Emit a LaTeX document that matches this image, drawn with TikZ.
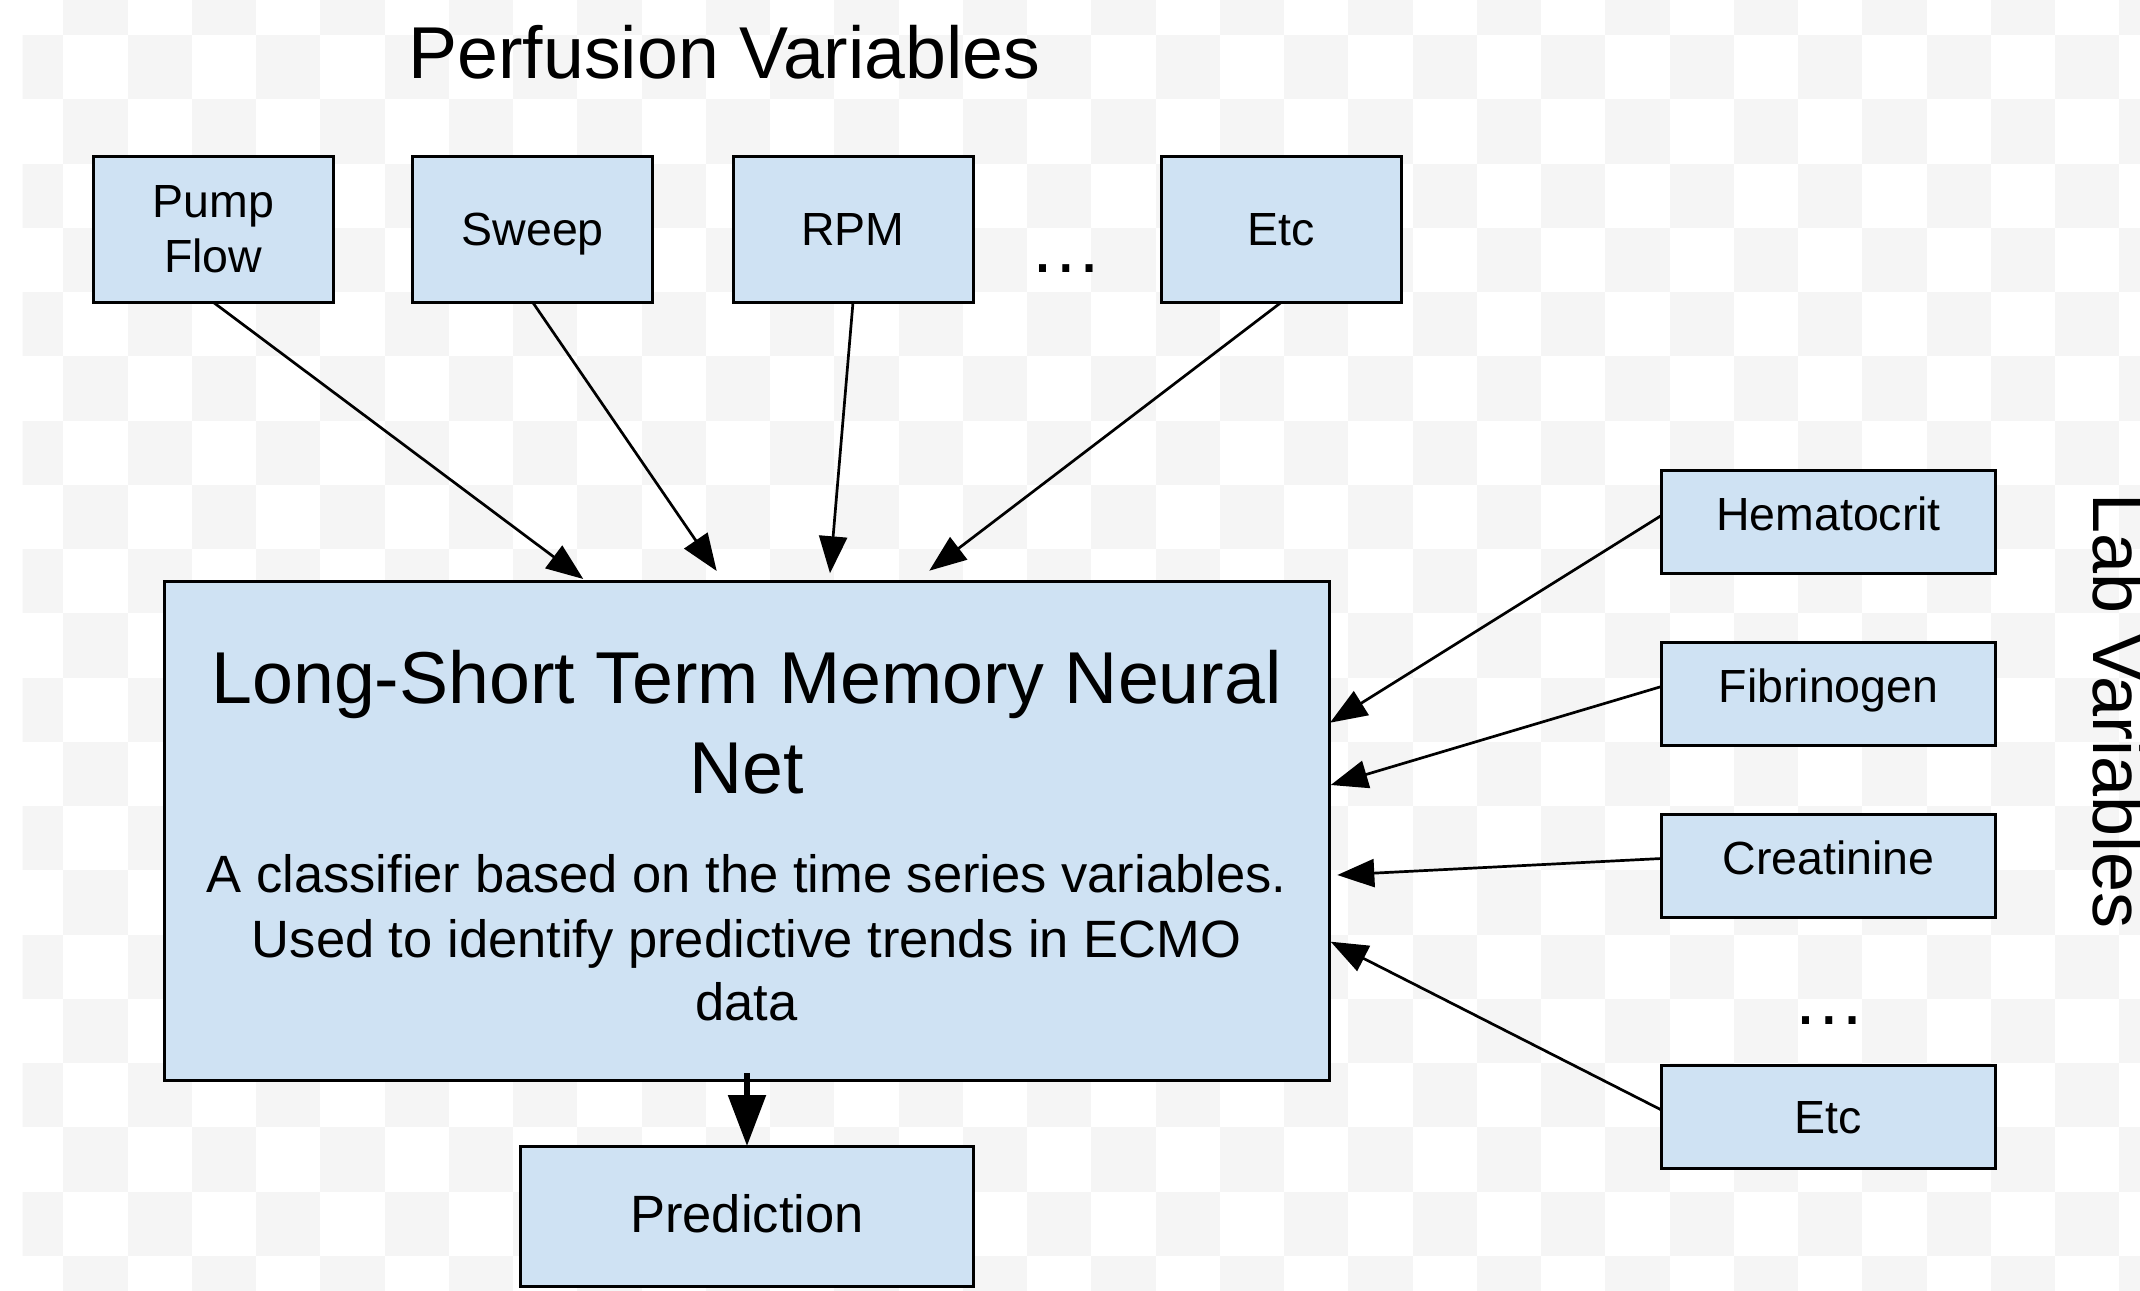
\documentclass[tikz,border=0pt]{standalone}
\usepackage{fontspec}
\setmainfont{Liberation Sans}
\usetikzlibrary{arrows.meta}
\definecolor{boxblue}{RGB}{207,226,243}
\definecolor{ckgray}{RGB}{245,245,245}
\begin{document}
\begin{tikzpicture}[x=1pt,y=-1pt,
  vbox/.style={draw=black, line width=3pt, fill=boxblue, inner sep=0pt, outer sep=0pt, align=center},
  topbox/.style={vbox, minimum width=240pt, minimum height=146pt, font=\fontsize{46.5}{55}\selectfont},
  onel/.style={text height=33pt, text depth=1pt},
  highl/.style={text height=33pt, text depth=16pt},
  labbox/.style={vbox, minimum width=334pt, minimum height=103pt, font=\fontsize{46.5}{55}\selectfont},
  conn/.style={draw=black, line width=2.7pt, -{Triangle[length=37pt,width=28pt]}},
  bigtext/.style={font=\fontsize{73.5}{86}\selectfont, inner sep=0pt, anchor=base},
  bodytext/.style={font=\fontsize{52.5}{63}\selectfont, inner sep=0pt, anchor=base},
]
\useasboundingbox (0,0) rectangle (2140,1290);
\fill[white] (0,0) rectangle (2140,1290);
\begin{scope}
\clip (22.7,0) rectangle (2140,1290);
\foreach \r in {-1,...,19}{
  \foreach \c in {-1,...,32}{
    \pgfmathtruncatemacro{\ckodd}{mod(\c+\r+100,2)}
    \ifnum\ckodd=1
      \fill[ckgray] ({63.3+64.25*\c},{35+64.25*\r}) rectangle ++(64.25,64.25);
    \fi
  }
}
\end{scope}

% title
\node[bigtext] (perf) at (724.5,78) {Perfusion Variables};

% top boxes
\node[topbox] (pump) at (213.3,229.3) {Pump\\Flow};
\node[topbox,onel] (sweep) at (532.7,229.3) {Sweep};
\node[topbox,onel] (rpm) at (853,229.3) {RPM};
\node[topbox,onel] (etc1) at (1281.3,229.3) {Etc};
\node[bigtext] (dots1) at (1066.5,272) {…};

% main box
\node[vbox, minimum width=1165pt, minimum height=499pt] (lstm) at (746.5,830.5) {};
\node[bigtext] (lstmt1) at (746.5,703.5) {Long-Short Term Memory Neural};
\node[bigtext] (lstmt2) at (746.5,793) {Net};
\node[bodytext] (lstmb1) at (746.5,892) {A classifier based on the time series variables.};
\node[bodytext] (lstmb2) at (746.5,957) {Used to identify predictive trends in ECMO};
\node[bodytext] (lstmb3) at (746.5,1020) {data};

% prediction
\node[vbox, onel, minimum width=453pt, minimum height=140pt, font=\fontsize{52.5}{63}\selectfont] (pred) at (747,1216) {Prediction};

% lab boxes
\node[labbox, highl] (hem) at (1828.5,522.4) {Hematocrit};
\node[labbox, highl] (fib) at (1828.5,693.5) {Fibrinogen};
\node[labbox, highl] (cre) at (1828.5,865.5) {Creatinine};
\node[labbox, onel] (etc2) at (1828.5,1117) {Etc};
\node[bigtext] (dots2) at (1829,1024) {…};
\node[font=\fontsize{72}{86}\selectfont, inner sep=0pt, rotate=-90, anchor=base west] (lab) at (2093,493) {Lab Variables};

% arrow tips on the main box
\coordinate (t1) at (583.3,579);
\coordinate (t2) at (716.7,571);
\coordinate (t3) at (830,573.3);
\coordinate (t4) at (929.3,570.7);
\coordinate (t5) at (1330,722.7);
\coordinate (t6) at (1330.7,785);
\coordinate (t7) at (1337.3,875);
\coordinate (t8) at (1330.7,941.7);
\coordinate (pstart) at ([yshift=7pt]lstm.south);

\draw[conn] (pump.south) -- (t1);
\draw[conn] (sweep.south) -- (t2);
\draw[conn] (rpm.south) -- (t3);
\draw[conn] (etc1.south) -- (t4);
\draw[conn] ([yshift=7pt]hem.west) -- (t5);
\draw[conn] ([yshift=7pt]fib.west) -- (t6);
\draw[conn] ([yshift=7pt]cre.west) -- (t7);
\draw[conn] ([yshift=7pt]etc2.west) -- (t8);
\draw[conn, line width=5.5pt, -{Triangle[length=51pt,width=37pt]}] (pstart -| pred.north) -- (pred.north);
\end{tikzpicture}
\end{document}
